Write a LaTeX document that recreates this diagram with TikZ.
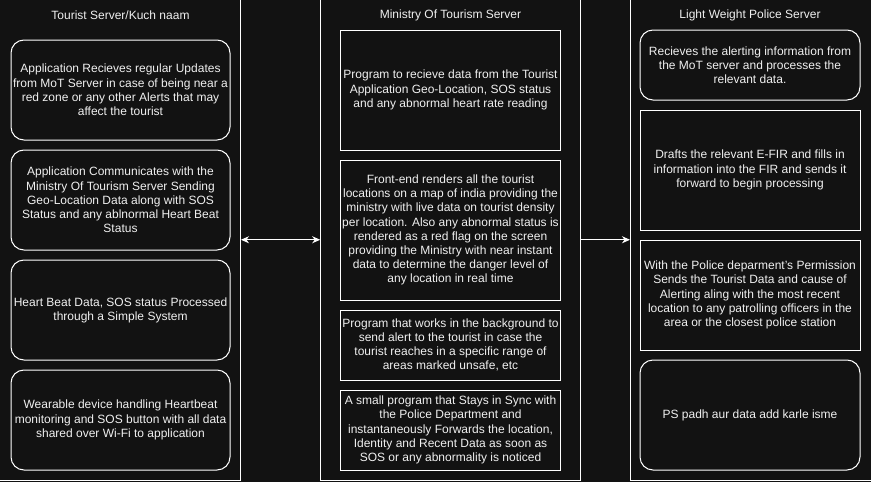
\documentclass[tikz,border=0pt]{standalone}
\usepackage{fontspec}
\setmainfont{Liberation Sans}
\usetikzlibrary{arrows.meta}
\definecolor{bg}{HTML}{121212}
\definecolor{fg}{HTML}{F0F0F0}
\begin{document}
\begin{tikzpicture}[x=1pt,y=-1pt,
  txt/.style={text=fg, font=\fontsize{12}{14.2}\selectfont, align=center, inner sep=0pt},
  container/.style={draw=white, line width=1pt, rectangle, inner sep=0pt, minimum height=481.5pt},
  sbox/.style={txt, draw=white, line width=1pt, rectangle},
  rbox/.style={sbox, rounded corners=13pt},
  ttl/.style={txt},
  conn/.style={draw=white, line width=1pt, -{Stealth[length=8pt,width=7pt,inset=2.5pt]}}
]
\useasboundingbox (0,0) rectangle (871,482);
\fill[bg] (0,0) rectangle (871,482);
\clip (0,0) rectangle (871,482);

% containers
\node[container, minimum width=241.5pt] (tour) at (119.75,239.75) {};
\node[container, minimum width=259.8pt] (mot) at (450.6,239.75) {};
\node[container, minimum width=241.5pt] (pol) at (751.25,239.75) {};

% titles
\node[ttl] (t1) at (120.5,15) {Tourist Server/Kuch naam};
\node[ttl] (t2) at (450.5,15) {Ministry Of Tourism Server};
\node[ttl] (t3) at (750,15) {Light Weight Police Server};

% left boxes
\node[rbox, minimum width=219pt, minimum height=100pt] (l1) at (120.5,90)
 {Application Recieves regular Updates\\from MoT Server in case of being near a\\red zone or any other Alerts that may\\affect the tourist};
\node[rbox, minimum width=219pt, minimum height=100pt] (l2) at (120.5,200)
 {Application Communicates with the\\Ministry Of Tourism Server Sending\\Geo-Location Data along with SOS\\Status and any ablnormal Heart Beat\\Status};
\node[rbox, minimum width=219pt, minimum height=100pt] (l3) at (120.5,310)
 {Heart Beat Data, SOS status Processed\\through a Simple System};
\node[rbox, minimum width=219pt, minimum height=100pt] (l4) at (120.5,420)
 {Wearable device handling Heartbeat\\monitoring and SOS button with all data\\shared over Wi-Fi to application};

% middle boxes
\node[sbox, minimum width=220.5pt, minimum height=120pt] (m1) at (450.5,90)
 {Program to recieve data from the Tourist\\Application Geo-Location, SOS status\\and any abnormal heart rate reading};
\node[sbox, minimum width=220.5pt, minimum height=140pt] (m2) at (450.5,230)
 {Front-end renders all the tourist\\locations on a map of india providing the\\ministry with live data on tourist density\\per location. Also any abnormal status is\\rendered as a red flag on the screen\\providing the Ministry with near instant\\data to determine the danger level of\\any location in real time};
\node[sbox, minimum width=220.5pt, minimum height=70pt] (m3) at (450.5,345)
 {Program that works in the background to\\send alert to the tourist in case the\\tourist reaches in a specific range of\\areas marked unsafe, etc};
\node[sbox, minimum width=220.5pt, minimum height=80pt] (m4) at (450.5,430)
 {A small program that Stays in Sync with\\the Police Department and\\instantaneously Forwards the location,\\Identity and Recent Data as soon as\\SOS or any abnormality is noticed};

% right boxes
\node[rbox, minimum width=220pt, minimum height=70pt] (r1) at (750,65)
 {Recieves the alerting information from\\the MoT server and processes the\\relevant data.};
\node[sbox, minimum width=220pt, minimum height=120pt] (r2) at (750,170)
 {Drafts the relevant E-FIR and fills in\\information into the FIR and sends it\\forward to begin processing};
\node[sbox, minimum width=220pt, minimum height=110pt] (r3) at (750,295)
 {With the Police deparment's Permission\\Sends the Tourist Data and cause of\\Alerting aling with the most recent\\location to any patrolling officers in the\\area or the closest police station};
\node[rbox, minimum width=220pt, minimum height=110pt] (r4) at (750,415)
 {PS padh aur data add karle isme};

% connectors
\draw[conn, {Stealth[length=8pt,width=7pt,inset=2.5pt]}-{Stealth[length=8pt,width=7pt,inset=2.5pt]}] (tour.east) -- (mot.west);
\draw[conn] (mot.east) -- (pol.west);
\end{tikzpicture}
\end{document}
